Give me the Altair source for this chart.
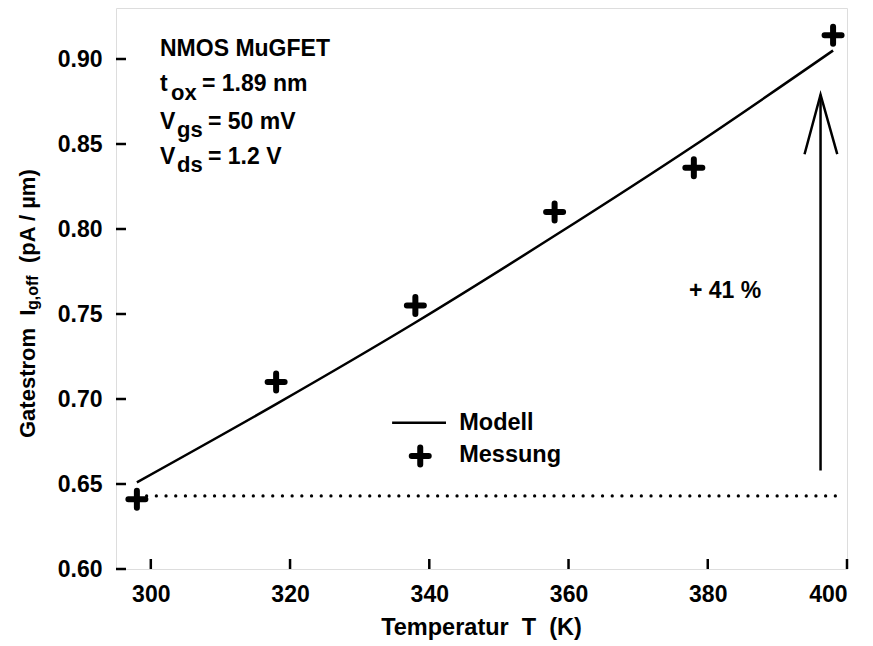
import altair as alt
import pandas as pd

# Measured gate leakage vs. temperature and the model curve
temps = [298, 318, 338, 358, 378, 398]
measured = [0.641, 0.710, 0.755, 0.810, 0.836, 0.914]
model = [0.651, 0.697, 0.745, 0.796, 0.849, 0.905]

x_ticks = [300, 320, 340, 360, 380, 400]
y_ticks = [0.60, 0.65, 0.70, 0.75, 0.80, 0.85, 0.90]

# Reference level (value at 298 K) and the increase arrow
ref_level = 0.643
ref_span = [298, 398.7]
arrow_x = 396.2
arrow_span = [0.658, 0.879]
arrow_head_x = [393.9, 396.2, 398.6]
arrow_head_y = [0.844, 0.879, 0.844]

W, H = 731, 561
FONT = "Liberation Sans"
NB = "\u00a0"
X_DOM = [295, 400]
Y_DOM = [0.60, 0.93]

xs = alt.Scale(domain=X_DOM, nice=False, zero=False)
ys = alt.Scale(domain=Y_DOM, nice=False, zero=False)

PLUS = "M-1,0L1,0M0,-1L0,1"

df = pd.DataFrame({"T": temps, "meas": measured, "model": model})

base = alt.Chart(df)

line = base.mark_line(color="black", strokeWidth=2.5, interpolate="monotone").encode(
    x=alt.X("T:Q", scale=xs,
            axis=alt.Axis(values=x_ticks, format="d", ticks=False, tickSize=0, domain=False,
                          grid=False, labelPadding=14, labelFontSize=23, labelFont=FONT,
                          labelFontWeight="bold", labelColor="black", title=None)),
    y=alt.Y("model:Q", scale=ys,
            axis=alt.Axis(values=y_ticks, format=".2f", ticks=False, tickSize=0, domain=False,
                          grid=False, labelPadding=14, labelFontSize=23, labelFont=FONT,
                          labelFontWeight="bold", labelColor="black", title=None)),
)

points = base.mark_point(shape=PLUS, size=289, strokeWidth=6, strokeCap="round",
                         filled=False, color="black", opacity=1).encode(
    x=alt.X("T:Q", scale=xs), y=alt.Y("meas:Q", scale=ys))

# dotted reference line
ref = alt.Chart(pd.DataFrame({"x": [ref_span[0]], "x2": [ref_span[1]], "y": [ref_level]})).mark_rule(
    color="black", strokeWidth=3.2, strokeDash=[0.1, 9.6], strokeCap="round").encode(
    x=alt.X("x:Q", scale=xs), x2="x2:Q", y=alt.Y("y:Q", scale=ys))

# arrow
shaft = alt.Chart(pd.DataFrame({"x": [arrow_x], "y": [arrow_span[0]], "y2": [arrow_span[1]]})).mark_rule(
    color="black", strokeWidth=2.5).encode(
    x=alt.X("x:Q", scale=xs), y=alt.Y("y:Q", scale=ys), y2="y2:Q")
head = alt.Chart(pd.DataFrame({"x": arrow_head_x, "y": arrow_head_y, "o": [0, 1, 2]})).mark_line(
    color="black", strokeWidth=2.5, strokeJoin="miter").encode(
    x=alt.X("x:Q", scale=xs), y=alt.Y("y:Q", scale=ys), order="o:Q")

# inward ticks
xt = alt.Chart(pd.DataFrame({"v": x_ticks})).mark_rule(color="black", strokeWidth=2.5).encode(
    x=alt.X("v:Q", scale=xs), y=alt.value(H), y2=alt.value(H - 10))
yt = alt.Chart(pd.DataFrame({"v": y_ticks})).mark_rule(color="black", strokeWidth=2.5).encode(
    y=alt.Y("v:Q", scale=ys), x=alt.value(0), x2=alt.value(10))

# legend
leg_line = alt.Chart(pd.DataFrame({"x": [334.66], "x2": [342.4], "y": [0.686]})).mark_rule(
    color="black", strokeWidth=2.5).encode(
    x=alt.X("x:Q", scale=xs), x2="x2:Q", y=alt.Y("y:Q", scale=ys))
leg_pt = alt.Chart(pd.DataFrame({"x": [338.7], "y": [0.6665]})).mark_point(
    shape=PLUS, size=289, strokeWidth=6, strokeCap="round", filled=False, color="black", opacity=1).encode(
    x=alt.X("x:Q", scale=xs), y=alt.Y("y:Q", scale=ys))
leg_txt = alt.Chart(pd.DataFrame({"x": [344.3, 344.3], "y": [0.686, 0.6672],
                                  "t": ["Modell", "Messung"]})).mark_text(
    align="left", baseline="middle", font=FONT, fontWeight="bold", fontSize=23.5, color="black").encode(
    x=alt.X("x:Q", scale=xs), y=alt.Y("y:Q", scale=ys), text="t:N")

pct = alt.Chart(pd.DataFrame({"x": [377.3], "y": [0.7638], "t": ["+ 41 %"]})).mark_text(
    align="left", baseline="middle", font=FONT, fontWeight="bold", fontSize=23, color="black").encode(
    x=alt.X("x:Q", scale=xs), y=alt.Y("y:Q", scale=ys), text="t:N")


def txt(t, x, y, size=23, angle=0):
    kw = dict(align="left", baseline="alphabetic", font=FONT, fontWeight="bold",
              fontSize=size, color="black")
    if angle:
        kw["angle"] = angle
    return alt.Chart(pd.DataFrame({"t": [t]})).mark_text(**kw).encode(
        x=alt.value(x), y=alt.value(y), text="t:N")


# parameter block with subscripts
params = [
    txt("NMOS MuGFET", 44, 48),
    txt("t", 44, 83), txt("ox", 55, 91.5, 22), txt("= 1.89 nm", 86, 83),
    txt("V", 44, 121), txt("gs", 61, 129, 22), txt("= 50 mV", 92, 121),
    txt("V", 44, 156), txt("ds", 61, 164, 22), txt("= 1.2 V", 92, 156),
]

# axis titles
x_title = alt.Chart(pd.DataFrame({"t": [f"Temperatur{NB}{NB}T{NB}{NB}(K)"]})).mark_text(
    align="center", baseline="alphabetic", font=FONT, fontWeight="bold", fontSize=23.5,
    color="black").encode(x=alt.value(W / 2), y=alt.value(627), text="t:N")
y_title = [
    txt(f"Gatestrom{NB}{NB}I", -81, 430, 22, 270),
    txt("g,off", -78, 302, 16, 270),
    txt("(pA / µm)", -81, 255, 22, 270),
]

chart = alt.layer(
    ref, line, shaft, head, xt, yt, points, leg_line, leg_pt, leg_txt, pct,
    *params, x_title, *y_title
).properties(
    width=W, height=H,
    padding={"left": 116, "top": 8, "right": 26, "bottom": 77},
    autosize=alt.AutoSizeParams(type="none"),
).configure_view(stroke="black", strokeWidth=2.5).configure(background="white")

chart.save("out.html", embed_options={"renderer": "svg", "actions": False})
